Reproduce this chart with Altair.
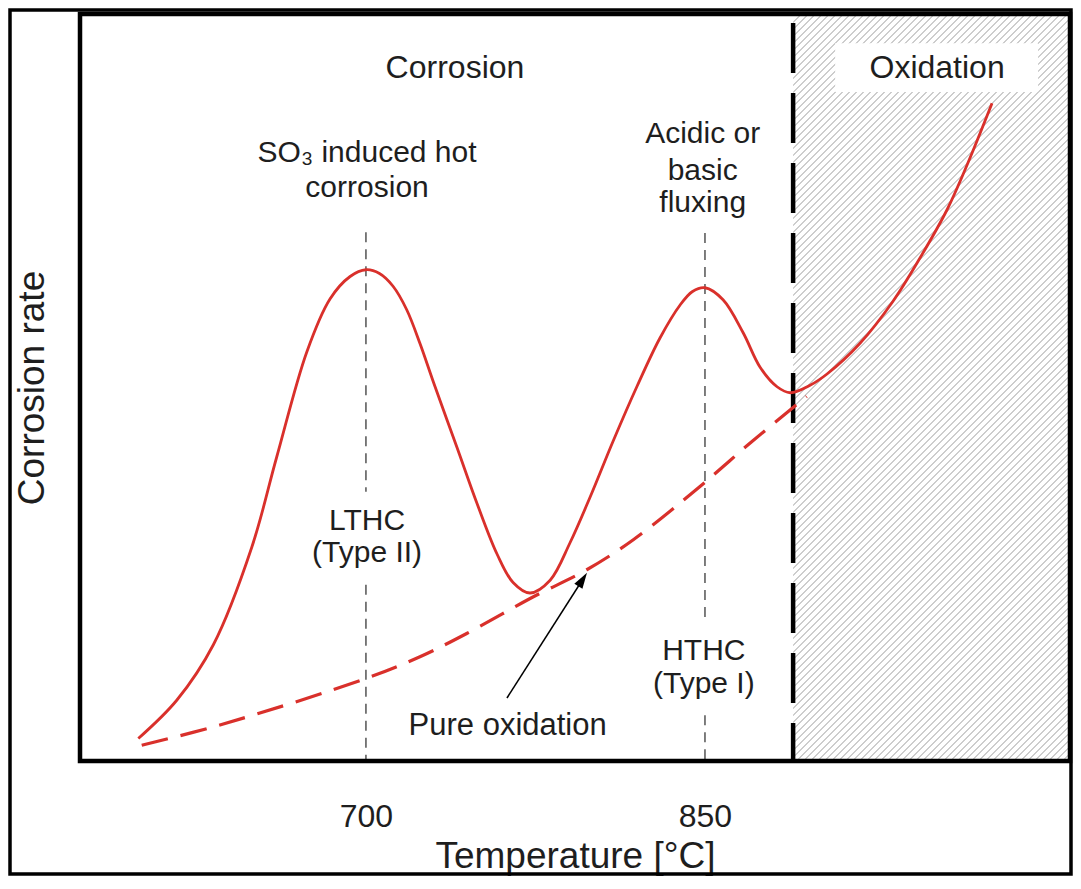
import altair as alt
import pandas as pd

# ---------------- data ----------------
# solid curve: observed corrosion rate vs temperature
solid_T = [599.3, 616.3, 632.5, 649.5, 660.5, 673.8, 684.1, 693.0, 700.0, 706.0,
           712.0, 718.0, 724.0, 730.0, 740.3, 749.2, 758.0, 765.1, 772.6, 781.5,
           790.3, 799.2, 809.3, 820.0, 830.1, 839.0, 844.5, 850.0, 858.0, 866.9,
           874.4, 881.9, 887.7, 896.5, 904.0, 918.6, 933.2, 945.2, 957.1, 966.0,
           977.0]
solid_r = [3.0, 8.1, 15.5, 28.5, 40.5, 54.5, 61.6, 64.6, 65.5, 65.0,
           63.3, 60.2, 55.6, 50.4, 41.8, 34.3, 27.6, 23.8, 22.4, 24.1,
           29.1, 35.2, 42.6, 50.0, 56.4, 60.8, 62.6, 63.1, 61.5, 57.1,
           52.5, 49.9, 49.1, 50.1, 51.6, 55.7, 61.3, 67.1, 73.5, 79.5,
           87.7]

# dashed curve: pure oxidation
oxid_T = [600.8, 635.4, 700.0, 723.9, 744.6, 774.1, 797.7, 818.3, 847.8, 870.0, 895.0]
oxid_r = [2.1, 4.8, 11.0, 13.9, 17.0, 21.9, 25.5, 29.5, 36.6, 42.4, 48.6]

x_domain = [573.5, 1011.5]
y_domain = [0.0, 99.6]
tick_values = [700, 850]
boundary_T = 889.0

# grey dashed reference lines (segments, interrupted by labels)
ref_T = [700, 700, 850, 850]
ref_top = [70.5, 23.5, 70.4, 6.1]
ref_bottom = [35.9, 0.0, 18.8, 0.0]

ann_text = ["Corrosion", "Oxidation", "SO\u2083 induced hot", "corrosion",
            "Acidic or", "basic", "fluxing", "LTHC", "(Type II)",
            "HTHC", "(Type I)", "Pure oxidation"]
ann_T = [739.4, 952.7, 700.5, 700.5, 849.0, 849.0, 849.0, 700.5, 700.5,
         849.5, 849.5, 762.7]
ann_r = [91.1, 91.1, 79.9, 75.2, 82.4, 77.5, 73.2, 30.8, 26.5, 13.5, 9.1, 3.5]
ann_size = [32, 32, 30, 30, 30, 30, 30, 30, 30, 30, 30, 31]

box_T = [907.6, 997.4]
box_r = [89.2, 95.7]

arrow_T = [762.4, 795.9]
arrow_r = [8.4, 24.2]

# ---------------- styling ----------------
W, H = 990, 747
FONT = "Liberation Sans"
TXT = "#1e1e1e"
RED = "#d9302b"
HATCH_LINE = "#cdcdcd"
HATCH_BG = "#ffffff"

xs = alt.Scale(domain=x_domain, nice=False, zero=False)
ys = alt.Scale(domain=y_domain, nice=False, zero=False)

# diagonal hatch as a hard-stop linear gradient (45 degree stripes in pixels)
px_per_T = W / (x_domain[1] - x_domain[0])
hw = (x_domain[1] - boundary_T) * px_per_T
hh = float(H)
s = (hw + hh) / (hw ** 2 + hh ** 2)
gx2, gy2 = s * hw, s * hh
period = 7.0 / (hw + hh)
frac = 0.32
stops = []
t = 0.0
while t < 1.0:
    a = round(t, 6)
    b = round(min(t + period * frac, 1.0), 6)
    c = round(min(t + period, 1.0), 6)
    stops += [alt.GradientStop(offset=a, color=HATCH_LINE),
              alt.GradientStop(offset=b, color=HATCH_LINE),
              alt.GradientStop(offset=b, color=HATCH_BG),
              alt.GradientStop(offset=c, color=HATCH_BG)]
    t += period
hatch = alt.LinearGradient(gradient="linear", stops=stops, x1=0, y1=0, x2=gx2, y2=gy2)

x_axis = alt.Axis(values=tick_values, format="d", title="Temperature [°C]",
                  labelFont=FONT, labelFontSize=32, labelColor=TXT, labelPadding=40,
                  ticks=False, domain=False, grid=False,
                  titleFont=FONT, titleFontSize=37, titleFontWeight="normal",
                  titleColor=TXT, titleY=106, titleBaseline="alphabetic")
y_axis = alt.Axis(title="Corrosion rate", labels=False, ticks=False, domain=False,
                  grid=False, titleFont=FONT, titleFontSize=37,
                  titleFontWeight="normal", titleColor=TXT, titleX=-37,
                  titleBaseline="alphabetic")


def X(field):
    return alt.X(field, scale=xs, axis=x_axis)


def Y(field):
    return alt.Y(field, scale=ys, axis=y_axis)


# ---------------- layers ----------------
hatch_df = pd.DataFrame({"T1": [boundary_T], "T2": [x_domain[1]],
                         "r1": [y_domain[0]], "r2": [y_domain[1]]})
hatch_layer = alt.Chart(hatch_df).mark_rect(fill=hatch).encode(
    x=X("T1:Q"), x2="T2:Q", y=Y("r1:Q"), y2="r2:Q")

ref_df = pd.DataFrame({"T": ref_T, "top": ref_top, "bottom": ref_bottom})
ref_layer = alt.Chart(ref_df).mark_rule(color="#707070", strokeWidth=1.8,
                                        strokeDash=[10, 7]).encode(
    x=X("T:Q"), y=Y("top:Q"), y2="bottom:Q")

bnd_df = pd.DataFrame({"T": [boundary_T], "top": [y_domain[1]], "bottom": [y_domain[0]]})
bnd_layer = alt.Chart(bnd_df).mark_rule(color="black", strokeWidth=4.5,
                                        strokeDash=[50, 20], strokeDashOffset=61).encode(
    x=X("T:Q"), y=Y("top:Q"), y2="bottom:Q")

box_df = pd.DataFrame({"T1": [box_T[0]], "T2": [box_T[1]], "r1": [box_r[0]], "r2": [box_r[1]]})
box_layer = alt.Chart(box_df).mark_rect(fill="white").encode(
    x=X("T1:Q"), x2="T2:Q", y=Y("r1:Q"), y2="r2:Q")

ann_df = pd.DataFrame({"text": ann_text, "T": ann_T, "r": ann_r, "size": ann_size})
text_layer = alt.Chart(ann_df).mark_text(font=FONT, color=TXT, align="center",
                                         baseline="alphabetic").encode(
    x=X("T:Q"), y=Y("r:Q"),
    text="text:N",
    size=alt.Size("size:Q", scale=None, legend=None))

oxid_df = pd.DataFrame({"T": oxid_T, "r": oxid_r})
oxid_layer = alt.Chart(oxid_df).mark_line(color=RED, strokeWidth=3.2,
                                          strokeDash=[27, 13],
                                          interpolate="catmull-rom").encode(
    x=X("T:Q"), y=Y("r:Q"))

solid_df = pd.DataFrame({"T": solid_T, "r": solid_r})
solid_layer = alt.Chart(solid_df).mark_line(color=RED, strokeWidth=2.8,
                                            interpolate="catmull-rom").encode(
    x=X("T:Q"), y=Y("r:Q"))

arrow_df = pd.DataFrame({"T1": [arrow_T[0]], "T2": [arrow_T[1]],
                         "r1": [arrow_r[0]], "r2": [arrow_r[1]]})
arrow_line = alt.Chart(arrow_df).mark_rule(color="black", strokeWidth=1.5).encode(
    x=X("T1:Q"), x2="T2:Q", y=Y("r1:Q"), y2="r2:Q")
arrow_head = alt.Chart(arrow_df).mark_point(shape="M0,-1L-0.6,1L0.6,1Z", filled=True,
                                            color="black", opacity=1, size=256,
                                            angle=32.6).encode(
    x=X("T2:Q"), y=Y("r2:Q"))

one = pd.DataFrame({"k": [0]})
plot_box = alt.Chart(one).mark_rect(fillOpacity=0, stroke="black", strokeWidth=4.5).encode(
    x=alt.value(0), x2=alt.value(W), y=alt.value(0), y2=alt.value(H))
outer_frame = alt.Chart(one).mark_rect(fillOpacity=0, stroke="black", strokeWidth=3.5).encode(
    x=alt.value(-70), x2=alt.value(W + 1), y=alt.value(-4), y2=alt.value(H + 113))

chart = alt.layer(
    hatch_layer, ref_layer, bnd_layer, box_layer, text_layer,
    oxid_layer, solid_layer, arrow_line, arrow_head, plot_box, outer_frame
).properties(
    width=W, height=H,
    padding={"left": 72, "top": 6, "right": 3, "bottom": 115},
    autosize=alt.AutoSizeParams(type="none"),
    background="white",
).configure_view(strokeWidth=0)

chart.save("out.html", embed_options={"renderer": "svg", "actions": False})
